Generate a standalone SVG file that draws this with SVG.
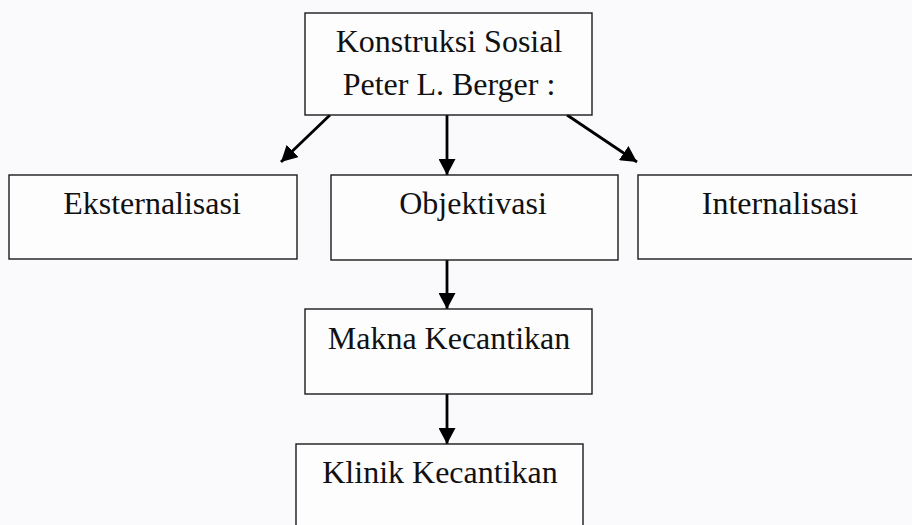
<svg xmlns="http://www.w3.org/2000/svg" width="912" height="525" viewBox="0 0 912 525">
<defs>
<style>
.box{fill:#ffffff;fill-opacity:0.6;stroke:#1a1a1a;stroke-width:1.4}
.lbl{font-family:"Liberation Serif","Times New Roman",serif;font-size:32px;fill:#111;text-anchor:middle}
.arr{stroke:#000;stroke-width:2.8;fill:none;marker-end:url(#ah)}
</style>
<marker id="ah" markerUnits="userSpaceOnUse" markerWidth="17" markerHeight="17" viewBox="0 0 17 17" refX="16" refY="8.5" orient="auto">
<path d="M0,0 L16,8.5 L0,17 Z" fill="#000"/>
</marker>
</defs>
<rect width="912" height="525" fill="#fafafc"/>
<g id="connectors">
<line class="arr" x1="447" y1="115" x2="447" y2="175"/>
<line class="arr" x1="330" y1="115" x2="281" y2="162"/>
<line class="arr" x1="567" y1="115" x2="637" y2="162"/>
<line class="arr" x1="447" y1="260" x2="447" y2="309"/>
<line class="arr" x1="447" y1="394" x2="447" y2="444"/>
</g>
<g id="node-konstruksi">
<rect class="box" x="305" y="13" width="287" height="102"/>
<text class="lbl" x="449" y="52">Konstruksi Sosial</text>
<text class="lbl" x="449" y="95">Peter L. Berger :</text>
</g>
<g id="node-eksternalisasi">
<rect class="box" x="9" y="175" width="288" height="84"/>
<text class="lbl" x="152" y="214">Eksternalisasi</text>
</g>
<g id="node-objektivasi">
<rect class="box" x="331" y="175" width="287" height="85"/>
<text class="lbl" x="473" y="214">Objektivasi</text>
</g>
<g id="node-internalisasi">
<rect class="box" x="638" y="175" width="290" height="84"/>
<text class="lbl" x="780" y="214">Internalisasi</text>
</g>
<g id="node-makna">
<rect class="box" x="305" y="309" width="287" height="85"/>
<text class="lbl" x="449" y="349">Makna Kecantikan</text>
</g>
<g id="node-klinik">
<rect class="box" x="296" y="444" width="287" height="100"/>
<text class="lbl" x="440" y="483">Klinik Kecantikan</text>
</g>
</svg>
